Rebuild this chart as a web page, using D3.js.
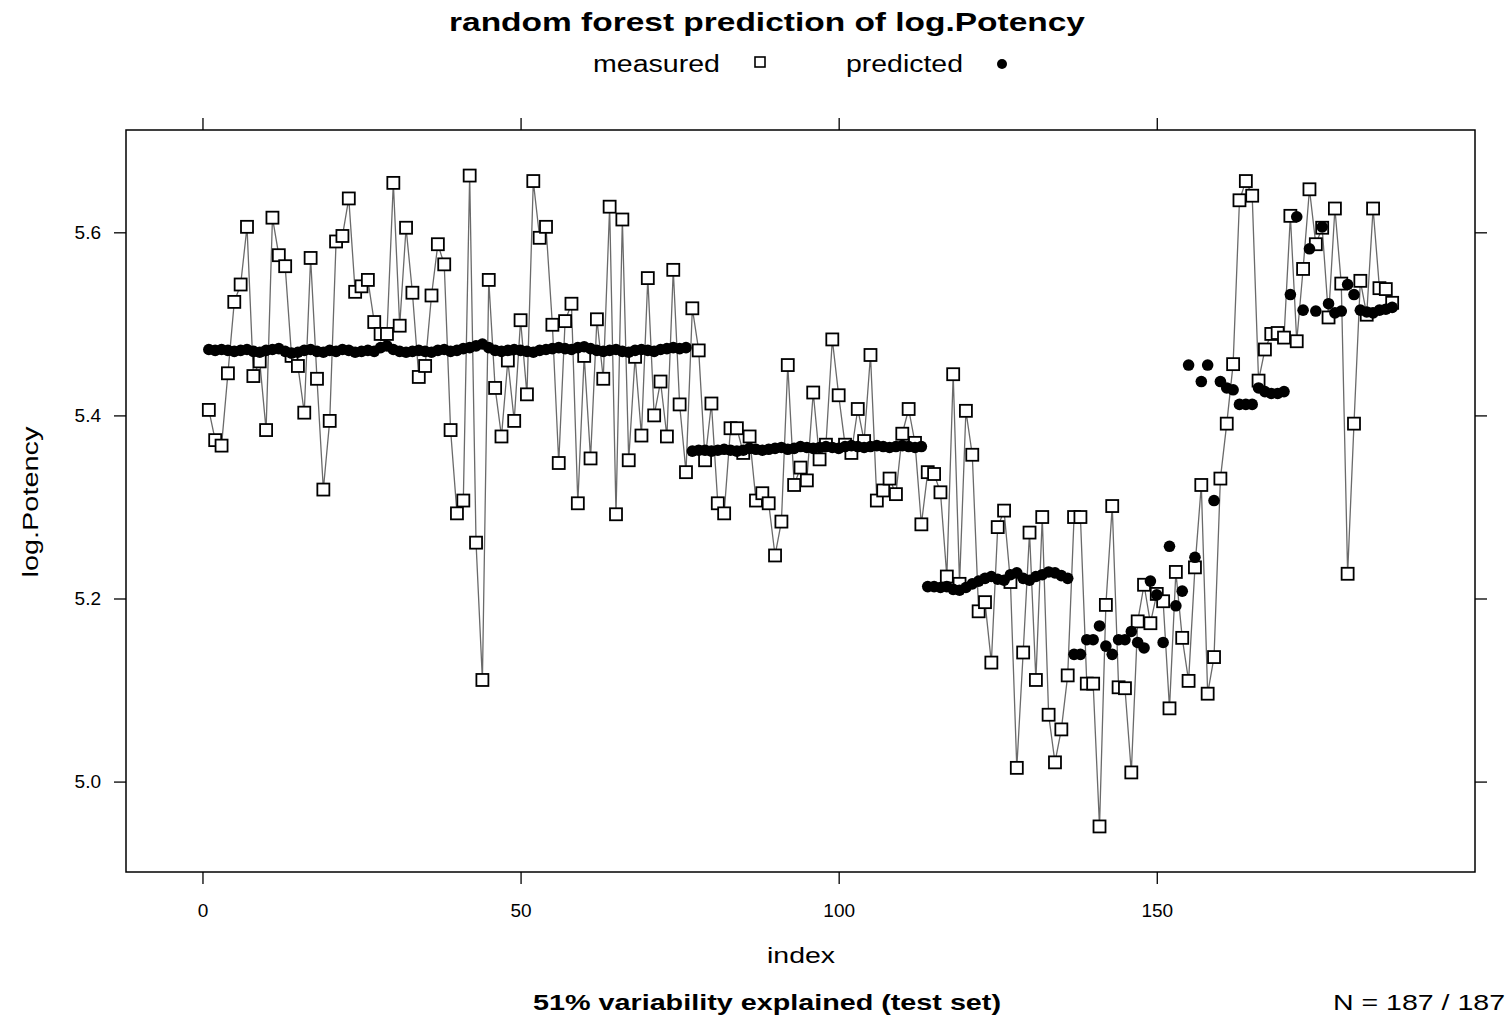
<!DOCTYPE html>
<html>
<head>
<meta charset="utf-8">
<script src="https://cdn.jsdelivr.net/npm/d3@7"></script>
<style>
  body { margin: 0; background: #fff; }
  text { font-family: "Liberation Sans", Arial, Helvetica, sans-serif; fill: #000; }
</style>
</head>
<body>
<div id="chart"></div>
<script>
// measured log.Potency, index 1..187
var measured = [
  5.406, 5.373, 5.367, 5.446, 5.524, 5.543, 5.606, 5.443, 5.459, 5.384,
  5.616, 5.575, 5.563, 5.465, 5.454, 5.403, 5.572, 5.440, 5.319, 5.394,
  5.590, 5.596, 5.637, 5.535, 5.541, 5.548, 5.502, 5.489, 5.489, 5.654,
  5.498, 5.605, 5.534, 5.442, 5.454, 5.531, 5.587, 5.565, 5.384, 5.293,
  5.307, 5.662, 5.261, 5.111, 5.548, 5.430, 5.377, 5.460, 5.394, 5.504,
  5.423, 5.656, 5.594, 5.606, 5.499, 5.348, 5.503, 5.522, 5.304, 5.465,
  5.353, 5.505, 5.440, 5.628, 5.292, 5.614, 5.351, 5.464, 5.378, 5.550,
  5.400, 5.437, 5.377, 5.559, 5.412, 5.338, 5.517, 5.471, 5.351, 5.413,
  5.304, 5.293, 5.386, 5.386, 5.359, 5.377, 5.307, 5.315, 5.304, 5.247,
  5.284, 5.455, 5.324, 5.343, 5.329, 5.425, 5.352, 5.368, 5.483, 5.422,
  5.368, 5.359, 5.407, 5.372, 5.466, 5.307, 5.318, 5.331, 5.314, 5.380,
  5.407, 5.370, 5.281, 5.338, 5.336, 5.316, 5.224, 5.445, 5.216, 5.405,
  5.357, 5.186, 5.196, 5.130, 5.278, 5.296, 5.218, 5.015, 5.141, 5.272,
  5.111, 5.289, 5.073, 5.021, 5.057, 5.116, 5.289, 5.289, 5.107, 5.107,
  4.951, 5.193, 5.301, 5.103, 5.102, 5.010, 5.175, 5.215, 5.173, 5.205,
  5.197, 5.080, 5.229, 5.157, 5.110, 5.234, 5.324, 5.096, 5.136, 5.331,
  5.391, 5.456, 5.635, 5.656, 5.640, 5.438, 5.472, 5.489, 5.490, 5.485,
  5.618, 5.481, 5.560, 5.647, 5.587, 5.605, 5.507, 5.626, 5.544, 5.227,
  5.391, 5.547, 5.510, 5.626, 5.539, 5.538, 5.523
];

// random forest predictions, index 1..187
var predicted = [
  5.472, 5.471, 5.472, 5.471, 5.470, 5.471, 5.472, 5.470, 5.469, 5.471,
  5.472, 5.473, 5.470, 5.468, 5.469, 5.471, 5.472, 5.470, 5.469, 5.471,
  5.470, 5.472, 5.471, 5.469, 5.470, 5.471, 5.470, 5.474, 5.476, 5.472,
  5.470, 5.469, 5.470, 5.471, 5.470, 5.469, 5.471, 5.472, 5.470, 5.471,
  5.473, 5.474, 5.476, 5.478, 5.474, 5.471, 5.470, 5.471, 5.472, 5.471,
  5.470, 5.469, 5.471, 5.472, 5.473, 5.474, 5.473, 5.472, 5.474, 5.475,
  5.473, 5.471, 5.470, 5.471, 5.472, 5.470, 5.469, 5.471, 5.472, 5.471,
  5.470, 5.472, 5.473, 5.474, 5.473, 5.474,
  5.361, 5.362, 5.362, 5.361, 5.362, 5.363, 5.362, 5.361, 5.362, 5.364,
  5.363, 5.362, 5.363, 5.364, 5.365, 5.363, 5.364, 5.366, 5.365, 5.364,
  5.365, 5.366, 5.365, 5.364, 5.366, 5.367, 5.366, 5.365, 5.366, 5.367,
  5.366, 5.365, 5.366, 5.367, 5.366, 5.365, 5.366,
  5.213, 5.213, 5.212, 5.213, 5.210, 5.209, 5.212, 5.216, 5.219, 5.222,
  5.224, 5.221, 5.220, 5.226, 5.228, 5.222, 5.220, 5.224, 5.226, 5.229,
  5.228, 5.225, 5.222,
  5.139, 5.139, 5.155, 5.155, 5.170, 5.148, 5.139, 5.155, 5.155, 5.164,
  5.152, 5.146, 5.219, 5.204, 5.152, 5.257, 5.192, 5.208, 5.455, 5.245,
  5.437, 5.455, 5.307, 5.437, 5.430, 5.428, 5.412, 5.412, 5.412, 5.430,
  5.426, 5.424, 5.424, 5.426, 5.532, 5.617, 5.515, 5.582, 5.514, 5.606,
  5.522, 5.512, 5.514, 5.543, 5.532, 5.515, 5.513, 5.512, 5.515, 5.516,
  5.518
];

var xTicks = [0, 50, 100, 150];
var yTicks = [5.0, 5.2, 5.4, 5.6];

var data = measured.map(function(m, i) {
    return {index: i + 1, measured: m, predicted: predicted[i]};
});

var W = 1509, H = 1020;
var box = {left: 126, right: 1475, top: 130, bottom: 872};

// lattice-like 7% padding of the data range
function padded(ext) {
    var d = (ext[1] - ext[0]) * 0.07;
    return [ext[0] - d, ext[1] + d];
}
var allY = measured.concat(predicted);

var x = d3.scaleLinear()
    .domain(padded([1, data.length]))
    .range([box.left, box.right]);

var y = d3.scaleLinear()
    .domain(padded(d3.extent(allY)))
    .range([box.bottom, box.top]);

var svg = d3.select("#chart")
    .append("svg")
    .attr("width", W)
    .attr("height", H);

// title and key
svg.append("text")
    .attr("x", 767).attr("y", 31)
    .attr("text-anchor", "middle")
    .attr("font-size", 25).attr("font-weight", "bold")
    .attr("textLength", 636).attr("lengthAdjust", "spacingAndGlyphs")
    .text("random forest prediction of log.Potency");

svg.append("text")
    .attr("x", 593).attr("y", 72)
    .attr("font-size", 23)
    .attr("textLength", 127).attr("lengthAdjust", "spacingAndGlyphs")
    .text("measured");
svg.append("rect")
    .attr("x", 755).attr("y", 57).attr("width", 10).attr("height", 10)
    .attr("fill", "#fff").attr("stroke", "#000").attr("stroke-width", 1.6);

svg.append("text")
    .attr("x", 846).attr("y", 72)
    .attr("font-size", 23)
    .attr("textLength", 117).attr("lengthAdjust", "spacingAndGlyphs")
    .text("predicted");
svg.append("circle")
    .attr("cx", 1002).attr("cy", 64).attr("r", 5)
    .attr("fill", "#000");

// axes (ticks outside the box, labels on left and bottom only)
var bottomAxis = d3.axisBottom(x).tickValues(xTicks).tickSize(12).tickSizeOuter(0).tickPadding(20);
var topAxis = d3.axisTop(x).tickValues(xTicks).tickSize(12).tickSizeOuter(0).tickFormat("");
var leftAxis = d3.axisLeft(y).tickValues(yTicks).tickSize(12).tickSizeOuter(0).tickPadding(13)
    .tickFormat(d3.format(".1f"));
var rightAxis = d3.axisRight(y).tickValues(yTicks).tickSize(12).tickSizeOuter(0).tickFormat("");

function styleAxis(g) {
    g.select(".domain").remove();
    g.selectAll(".tick line").attr("stroke", "#000").attr("stroke-width", 1.3);
    g.selectAll(".tick text")
        .attr("font-size", 19)
        .attr("font-family", "'Liberation Sans', Arial, sans-serif")
        .attr("fill", "#000");
}

svg.append("g").attr("transform", "translate(0," + box.bottom + ")").call(bottomAxis).call(styleAxis);
svg.append("g").attr("transform", "translate(0," + box.top + ")").call(topAxis).call(styleAxis);
svg.append("g").attr("transform", "translate(" + box.left + ",0)").call(leftAxis).call(styleAxis);
svg.append("g").attr("transform", "translate(" + box.right + ",0)").call(rightAxis).call(styleAxis);

svg.append("rect")
    .attr("x", box.left).attr("y", box.top)
    .attr("width", box.right - box.left).attr("height", box.bottom - box.top)
    .attr("fill", "none").attr("stroke", "#000").attr("stroke-width", 1.5);

// measured: line + open squares
var line = d3.line()
    .x(function(d) { return x(d.index); })
    .y(function(d) { return y(d.measured); });

svg.append("path")
    .datum(data)
    .attr("d", line)
    .attr("fill", "none")
    .attr("stroke", "#6a6a6a")
    .attr("stroke-width", 1.3);

var sq = 12;
svg.selectAll("rect.measured")
    .data(data)
    .enter()
    .append("rect")
    .attr("class", "measured")
    .attr("x", function(d) { return x(d.index) - sq / 2; })
    .attr("y", function(d) { return y(d.measured) - sq / 2; })
    .attr("width", sq).attr("height", sq)
    .attr("fill", "#fff")
    .attr("stroke", "#000")
    .attr("stroke-width", 1.8);

// predicted: filled dots
svg.selectAll("circle.predicted")
    .data(data)
    .enter()
    .append("circle")
    .attr("class", "predicted")
    .attr("cx", function(d) { return x(d.index); })
    .attr("cy", function(d) { return y(d.predicted); })
    .attr("r", 5.8)
    .attr("fill", "#000");

// axis titles and footer
svg.append("text")
    .attr("x", 801).attr("y", 963)
    .attr("text-anchor", "middle")
    .attr("font-size", 22)
    .attr("textLength", 68).attr("lengthAdjust", "spacingAndGlyphs")
    .text("index");

svg.append("text")
    .attr("transform", "translate(38,502) rotate(-90)")
    .attr("text-anchor", "middle")
    .attr("font-size", 22)
    .attr("textLength", 151).attr("lengthAdjust", "spacingAndGlyphs")
    .text("log.Potency");

svg.append("text")
    .attr("x", 767).attr("y", 1010)
    .attr("text-anchor", "middle")
    .attr("font-size", 22).attr("font-weight", "bold")
    .attr("textLength", 468).attr("lengthAdjust", "spacingAndGlyphs")
    .text("51% variability explained (test set)");

svg.append("text")
    .attr("x", 1505).attr("y", 1010)
    .attr("text-anchor", "end")
    .attr("font-size", 22)
    .attr("textLength", 172).attr("lengthAdjust", "spacingAndGlyphs")
    .text("N = 187 / 187");
</script>
</body>
</html>
